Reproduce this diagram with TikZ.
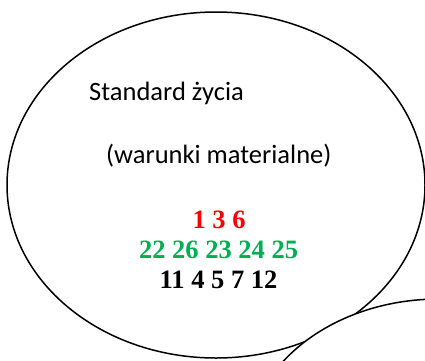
\documentclass[tikz,border=0pt]{standalone}
\usepackage{fontspec}
\setmainfont{Liberation Serif}
\setsansfont{Carlito}
\definecolor{offred}{RGB}{255,0,0}
\definecolor{offgreen}{RGB}{0,176,80}
\begin{document}
\begin{tikzpicture}[x=1pt,y=-1pt,
  bubble/.style={draw=black,line width=1.5pt},
  label/.style={inner sep=0pt,font=\sffamily\fontsize{26.5}{30}\selectfont},
  nums/.style={inner sep=0pt,font=\rmfamily\bfseries\fontsize{26.5}{30}\selectfont}]
\useasboundingbox (0,0) rectangle (425,360);
\clip (0,0) rectangle (425,360);
\draw[bubble] (216,185) ellipse [x radius=209, y radius=173];
\draw[bubble,fill=white] (439,449) ellipse [x radius=192, y radius=150];
\node[label,anchor=base west] (t1) at (89,100) {Standard życia};
\node[label,anchor=base west] (t2) at (106,163) {(warunki materialne)};
\node[nums,anchor=base,text=offred] (n1) at (219,228) {1 3 6};
\node[nums,anchor=base,text=offgreen] (n2) at (218.5,258) {22 26 23 24 25};
\node[nums,anchor=base,text=black] (n3) at (218.5,288) {11 4 5 7 12};
\end{tikzpicture}
\end{document}
